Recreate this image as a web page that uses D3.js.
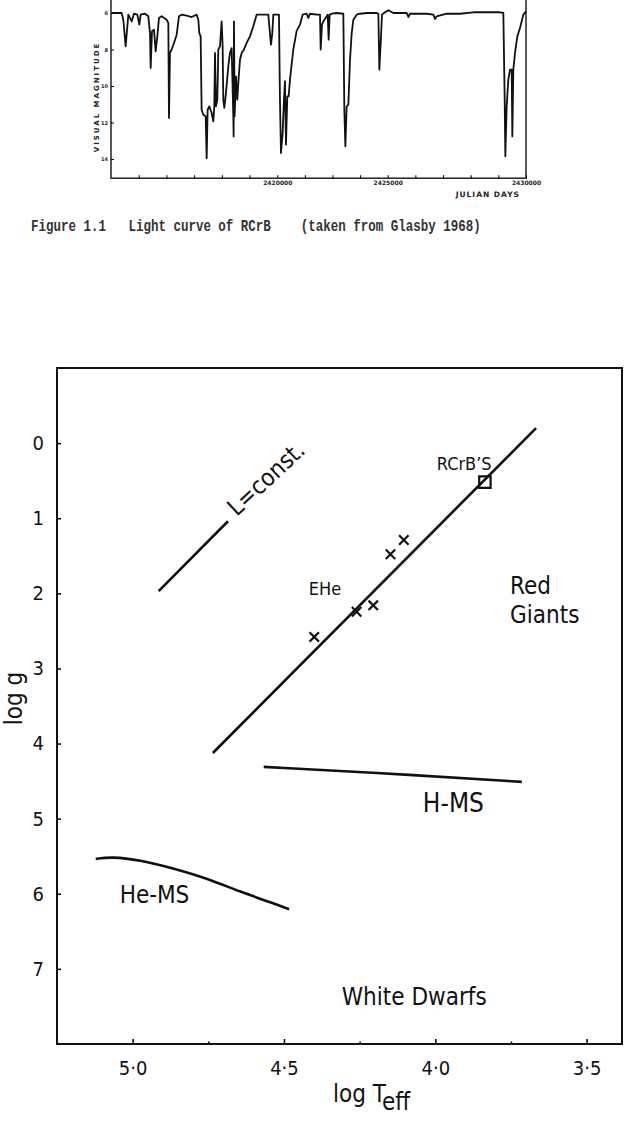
<!DOCTYPE html>
<html>
<head>
  <meta charset="utf-8">
  <title>RCrB light curve and log g - log Teff diagram</title>
  <style>
    body { margin: 0; background: #fff; }
    svg { display: block; }
    .lc text { font-family: "DejaVu Sans", sans-serif; font-weight: bold; fill: #222; }
    .hr text { font-family: "DejaVu Sans Condensed", "Liberation Sans Narrow", "DejaVu Sans", sans-serif; fill: #111; }
    .caption { font-family: "Liberation Mono", "Courier New", monospace; font-size: 12.5px; font-weight: bold; fill: #333; }
  </style>
</head>
<body>
<script src="https://cdn.jsdelivr.net/npm/d3@7"></script>
<script>
// ---- data: light curve of RCrB ----
var lightJD = [
  2412530, 2412981, 2413056, 2413161, 2413282, 2413432, 2413537, 2413687, 2413778, 2413838,
  2414033, 2414183, 2414259, 2414289, 2414349, 2414439, 2414514, 2414589, 2414664, 2414785,
  2415010, 2415085, 2415115, 2415160, 2415235, 2415341, 2415461, 2415566, 2415686, 2415912,
  2416137, 2416363, 2416438, 2416483, 2416543, 2416588, 2416663, 2416769, 2416814, 2416859,
  2416934, 2417039, 2417114, 2417159, 2417189, 2417234, 2417295, 2417340, 2417415, 2417490,
  2417535, 2417565, 2417610, 2417670, 2417791, 2417866, 2417941, 2418016, 2418031, 2418046,
  2418076, 2418136, 2418196, 2418241, 2418317, 2418392, 2418497, 2418617, 2418768, 2418918,
  2419068, 2419218, 2419444, 2419594, 2419669, 2419714, 2419775, 2419820, 2419970, 2420076,
  2420121, 2420166, 2420242, 2420302, 2420347, 2420393, 2420453, 2420514, 2420574, 2420725,
  2420876, 2421027, 2421148, 2421329, 2421405, 2421480, 2421783, 2421934, 2421964, 2422024,
  2422085, 2422236, 2422281, 2422326, 2422372, 2422462, 2422689, 2422991, 2423036, 2423082,
  2423142, 2423218, 2423293, 2423369, 2423444, 2423595, 2423746, 2424048, 2424502, 2424577,
  2424622, 2424683, 2424743, 2424879, 2425024, 2425205, 2425687, 2425747, 2425807, 2426410,
  2426651, 2426711, 2426771, 2427132, 2427614, 2428096, 2428578, 2429060, 2429181, 2429229,
  2429253, 2429301, 2429361, 2429422, 2429482, 2429506, 2429542, 2429602, 2429687, 2429783,
  2429903, 2430000
];
var lightMag = [
  6.00, 6.00, 6.37, 7.83, 6.09, 6.46, 6.04, 6.09, 6.64, 6.09,
  6.04, 6.18, 7.10, 9.01, 7.00, 6.91, 8.10, 7.28, 6.27, 6.18,
  6.37, 6.55, 11.75, 8.19, 8.00, 7.64, 7.19, 6.18, 6.09, 6.15,
  6.22, 6.09, 6.37, 7.10, 7.28, 11.30, 11.57, 11.66, 13.95, 11.30,
  11.11, 11.48, 11.94, 11.11, 8.19, 11.11, 10.75, 8.00, 7.83, 6.46,
  7.83, 10.75, 11.20, 10.57, 8.92, 8.19, 7.92, 11.66, 12.76, 6.46,
  11.66, 9.47, 10.75, 9.84, 8.56, 8.19, 8.00, 7.64, 7.28, 6.73,
  6.09, 6.09, 6.09, 6.09, 7.10, 7.74, 7.10, 6.09, 6.09, 6.09,
  10.75, 13.67, 12.58, 10.75, 9.74, 13.21, 10.57, 10.57, 9.65, 8.00,
  6.98, 6.64, 6.09, 6.04, 6.27, 6.04, 6.09, 6.09, 8.00, 6.64,
  6.46, 6.18, 6.09, 7.46, 6.09, 6.04, 6.00, 6.04, 11.30, 13.30,
  11.11, 11.02, 8.56, 7.10, 6.37, 6.09, 6.04, 6.00, 6.00, 6.04,
  9.10, 7.64, 6.09, 5.96, 5.85, 6.00, 6.00, 6.22, 6.04, 6.04,
  6.09, 6.33, 6.18, 6.04, 6.04, 5.96, 5.95, 5.96, 6.00, 10.75,
  13.85, 11.11, 9.65, 9.10, 9.10, 12.76, 9.10, 8.19, 7.28, 6.82,
  6.09, 5.91
];
var magTicks = [6, 8, 10, 12, 14];
var jdTicks = [2413750, 2415000, 2416250, 2417500, 2418750, 2420000, 2421250, 2422500,
               2423750, 2425000, 2426000, 2427000, 2428000, 2429000, 2430000];
var jdLabels = [2420000, 2425000, 2430000];

// ---- data: log g vs log Teff diagram ----
var loggTicks = [0, 1, 2, 3, 4, 5, 6, 7];
var teffTicks = [5.0, 4.5, 4.0, 3.5];
var teffMinor = [4.75, 4.25, 3.75];

var seqT = [4.735, 3.667],  seqG = [4.126, -0.20];       // line through EHe and RCrB stars
var lconstT = [4.914, 4.685], lconstG = [1.97, 1.04];     // L = const.
var hmsT = [4.567, 4.06, 3.714], hmsG = [4.31, 4.42, 4.51];
var hemsT = [5.122, 5.070, 4.977, 4.867, 4.756, 4.646, 4.536, 4.483];
var hemsG = [5.536, 5.506, 5.550, 5.660, 5.793, 5.971, 6.126, 6.206];
var eheT = [4.104, 4.148, 4.205, 4.260, 4.400];
var eheG = [1.29, 1.48, 2.16, 2.245, 2.58];
var rcrbT = [3.836], rcrbG = [0.52];

var labelText = ["RCrB\u2019S", "EHe", "Red", "Giants", "H-MS", "He-MS", "White Dwarfs"];
var labelT = [3.995, 4.418, 3.753, 3.753, 4.041, 5.043, 4.309];
var labelG = [0.36, 2.02, 2.01, 2.40, 4.91, 6.12, 7.48];
var labelSize = [18, 18, 24, 24, 26, 24, 24];

var svg = d3.select("body").append("svg")
    .attr("width", 633)
    .attr("height", 1127);

// =================== light curve panel ===================
var lc = svg.append("g").attr("class", "lc");

// the scanned time axis is not uniform, so use a piecewise scale
var xL = d3.scaleLinear()
    .domain([2412500, 2420000, 2425000, 2430000])
    .range([111, 277.3, 387.7, 526]);
var yL = d3.scaleLinear()
    .domain([5, 15.05])
    .range([-5.25, 178.2]);

// frame (top edge falls off the page)
lc.append("rect")
    .attr("x", xL(2412500))
    .attr("y", yL(5))
    .attr("width", xL(2430000) - xL(2412500))
    .attr("height", yL(15.05) - yL(5))
    .attr("fill", "none")
    .attr("stroke", "#222")
    .attr("stroke-width", 1.5);

var yAxisL = lc.append("g")
    .attr("transform", "translate(" + xL(2412500) + ",0)")
    .call(d3.axisLeft(yL).tickValues(magTicks).tickSize(-3).tickPadding(3));
yAxisL.select(".domain").remove();
yAxisL.selectAll("text").style("font-size", "5px").attr("font-family", null);

var xAxisL = lc.append("g")
    .attr("transform", "translate(0," + yL(15.05) + ")")
    .call(d3.axisBottom(xL).tickValues(jdTicks).tickSize(-3).tickPadding(3)
      .tickFormat(function(d) { return jdLabels.indexOf(d) >= 0 ? d : ""; }));
xAxisL.select(".domain").remove();
xAxisL.selectAll("text").style("font-size", "6px").attr("font-family", null);

lc.append("path")
    .datum(d3.zip(lightJD, lightMag))
    .attr("fill", "none")
    .attr("stroke", "#111")
    .attr("stroke-width", 1.8)
    .attr("stroke-linejoin", "round")
    .attr("d", d3.line()
      .x(function(d) { return xL(d[0]); })
      .y(function(d) { return yL(d[1]); }));

lc.append("text")
    .attr("transform", "translate(99,97) rotate(-90)")
    .attr("text-anchor", "middle")
    .style("font-size", "7px")
    .style("letter-spacing", "2px")
    .text("VISUAL MAGNITUDE");

lc.append("text")
    .attr("x", 520)
    .attr("y", 197)
    .attr("text-anchor", "end")
    .style("font-size", "7.5px")
    .style("letter-spacing", "1px")
    .text("JULIAN DAYS");

// typewritten caption, a bit taller than the font's own shape
svg.append("text")
    .attr("class", "caption")
    .attr("transform", "translate(31,231) scale(1,1.3)")
    .attr("xml:space", "preserve")
    .style("white-space", "pre")
    .text("Figure 1.1   Light curve of RCrB    (taken from Glasby 1968)");

// =================== log g - log Teff panel ===================
var hr = svg.append("g").attr("class", "hr");

var xB = d3.scaleLinear().domain([5.25, 3.383]).range([57, 622]);
var yB = d3.scaleLinear().domain([-1, 8]).range([368, 1044]);

hr.append("rect")
    .attr("x", xB(5.25))
    .attr("y", yB(-1))
    .attr("width", xB(3.383) - xB(5.25))
    .attr("height", yB(8) - yB(-1))
    .attr("fill", "none")
    .attr("stroke", "#111")
    .attr("stroke-width", 2);

var yAxisB = hr.append("g")
    .attr("transform", "translate(" + xB(5.25) + ",0)")
    .call(d3.axisLeft(yB).tickValues(loggTicks).tickSize(-4).tickPadding(13));
yAxisB.select(".domain").remove();
yAxisB.selectAll("line").attr("stroke-width", 1.5);
yAxisB.selectAll("text").style("font-size", "20px").attr("font-family", null);

var xAxisB = hr.append("g")
    .attr("transform", "translate(0," + yB(8) + ")")
    .call(d3.axisBottom(xB).tickValues(teffTicks).tickSize(-5).tickPadding(17)
      .tickFormat(function(d) { return d.toFixed(1).replace(".", "\u00b7"); }));
xAxisB.select(".domain").remove();
xAxisB.selectAll("line").attr("stroke-width", 1.5);
xAxisB.selectAll("text").style("font-size", "20px").attr("font-family", null);

var xMinorB = hr.append("g")
    .attr("transform", "translate(0," + yB(8) + ")")
    .call(d3.axisBottom(xB).tickValues(teffMinor).tickSize(-2.5).tickFormat(""));
xMinorB.select(".domain").remove();
xMinorB.selectAll("line").attr("stroke-width", 1.5);

// axis titles
hr.append("text")
    .attr("transform", "translate(22," + yB(3.4) + ") rotate(-90)")
    .attr("text-anchor", "middle")
    .style("font-size", "24px")
    .text("log g");

var xTitle = hr.append("text")
    .attr("x", 333)
    .attr("y", 1102)
    .style("font-size", "24px");
xTitle.append("tspan").text("log T");
xTitle.append("tspan").attr("dy", 8).text("eff");

// curves
var lineB = d3.line()
    .x(function(d) { return xB(d[0]); })
    .y(function(d) { return yB(d[1]); });

var curves = [
  {t: seqT, g: seqG, curve: d3.curveLinear},
  {t: lconstT, g: lconstG, curve: d3.curveLinear},
  {t: hmsT, g: hmsG, curve: d3.curveBasis},
  {t: hemsT, g: hemsG, curve: d3.curveBasis}
];
hr.selectAll(".curve")
    .data(curves)
  .enter().append("path")
    .attr("class", "curve")
    .attr("fill", "none")
    .attr("stroke", "#111")
    .attr("stroke-width", 2.6)
    .attr("d", function(c) { return lineB.curve(c.curve)(d3.zip(c.t, c.g)); });

// EHe stars
var timesSym = d3.symbolTimes || d3.symbolX;
hr.selectAll(".ehe")
    .data(d3.zip(eheT, eheG))
  .enter().append("path")
    .attr("class", "ehe")
    .attr("transform", function(d) { return "translate(" + xB(d[0]) + "," + yB(d[1]) + ")"; })
    .attr("d", d3.symbol().type(timesSym).size(60))
    .attr("fill", "none")
    .attr("stroke", "#111")
    .attr("stroke-width", 2.2);

// RCrB stars
hr.selectAll(".rcrb")
    .data(d3.zip(rcrbT, rcrbG))
  .enter().append("path")
    .attr("class", "rcrb")
    .attr("transform", function(d) { return "translate(" + xB(d[0]) + "," + yB(d[1]) + ")"; })
    .attr("d", d3.symbol().type(d3.symbolSquare).size(130))
    .attr("fill", "none")
    .attr("stroke", "#111")
    .attr("stroke-width", 2.2);

// region labels
hr.selectAll(".lab")
    .data(labelText)
  .enter().append("text")
    .attr("class", "lab")
    .attr("x", function(d, i) { return xB(labelT[i]); })
    .attr("y", function(d, i) { return yB(labelG[i]); })
    .style("font-size", function(d, i) { return labelSize[i] + "px"; })
    .text(function(d) { return d; });

hr.append("text")
    .attr("transform", "translate(" + xB(4.656) + "," + yB(0.985) + ") rotate(-43)")
    .style("font-size", "24px")
    .text("L=const.");
</script>
</body>
</html>
